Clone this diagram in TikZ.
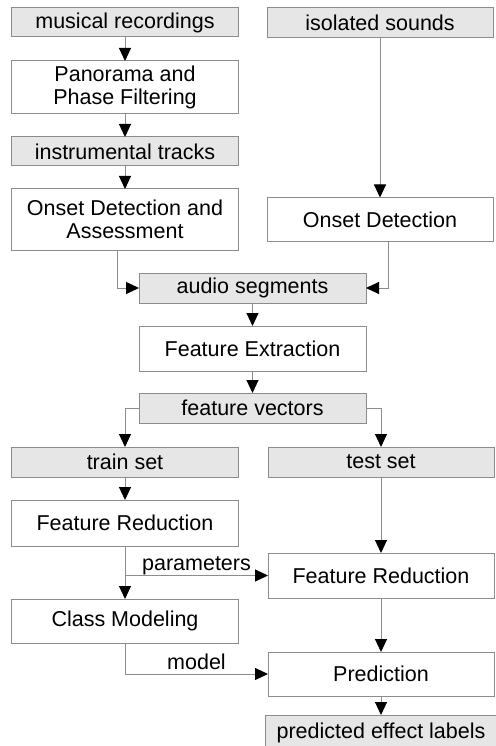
\documentclass[tikz,border=0pt]{standalone}
\usepackage{fontspec}
\setmainfont{Liberation Sans}
\usetikzlibrary{calc,positioning,arrows.meta}

\definecolor{edgegray}{HTML}{8C8C8C}
\definecolor{datafill}{HTML}{E6E6E6}

\begin{document}
\begin{tikzpicture}[
  node distance=23pt,
  box/.style={draw=edgegray, line width=1pt, align=center, inner sep=0pt, outer sep=0pt,
    minimum width=226pt, minimum height=45pt, font=\fontsize{21.5}{23}\selectfont},
  data/.style={box, fill=datafill, minimum height=30pt},
  arr/.style={draw=edgegray, line width=1pt, -{Triangle[length=13pt, width=12pt, black]}},
  lbl/.style={font=\fontsize{21.5}{23}\selectfont, inner sep=2pt, text depth=0.25em}
]
\useasboundingbox (-125pt,22.5pt) rectangle ++(495pt,-746pt);

\node[data, minimum height=29pt] (rec) {musical recordings};
\node[box, below=24pt of rec, minimum height=53pt] (pano) {Panorama and\\Phase Filtering};
\node[data, below=of pano, minimum height=29pt] (tracks) {instrumental tracks};
\node[box, below=of tracks, minimum height=61pt] (onsetA) {Onset Detection and\\Assessment};

\node[data, right=29pt of rec] (iso) {isolated sounds};
\node[box, below=160pt of iso, minimum height=44pt] (onset) {Onset Detection};

\coordinate (mid) at ($(onsetA.south)!0.5!(onsetA.south -| onset.south)$);
\node[data, below=of mid, minimum width=227pt] (audio) {audio segments};
\node[box, below=of audio, minimum width=227pt] (feat) {Feature Extraction};
\node[data, below=22pt of feat, minimum width=227pt] (fvec) {feature vectors};

\node[data, below=24pt] (train) at (fvec.south -| onsetA) {train set};
\node[data, right=30pt of train] (test) {test set};
\node[box, below=of train, minimum height=46pt] (redtrain) {Feature Reduction};
\node[box, below=76pt of test] (redtest) {Feature Reduction};
\node[box, below=53pt of redtrain, minimum height=44pt] (model) {Class Modeling};
\node[box, below=54pt of redtest, minimum height=44pt] (pred) {Prediction};
\node[data, below=19pt of pred, minimum width=232pt, minimum height=36pt] (labels) {predicted effect labels};

\draw[arr] (rec) -- (pano);
\draw[arr] (pano) -- (tracks);
\draw[arr] (tracks) -- (onsetA);
\draw[arr] (iso) -- (onset);
\draw[arr] ([xshift=-8pt]onsetA.south) |- (audio.west);
\draw[arr] ([xshift=8pt]onset.south) |- (audio.east);
\draw[arr] (audio) -- (feat);
\draw[arr] (feat) -- (fvec);
\draw[arr] (fvec.west) -| (train);
\draw[arr] (fvec.east) -| (test);
\draw[arr] (train) -- (redtrain);
\draw[arr] (test) -- (redtest);
\draw[arr] (redtrain) -- (model);
\draw[arr] (redtrain.south) |- node[lbl, pos=0.75, above] {parameters} (redtest.west);
\draw[arr] (model.south) |- node[lbl, pos=0.75, above] {model} (pred.west);
\draw[arr] (redtest) -- (pred);
\draw[arr] (pred) -- (labels);
\end{tikzpicture}
\end{document}
